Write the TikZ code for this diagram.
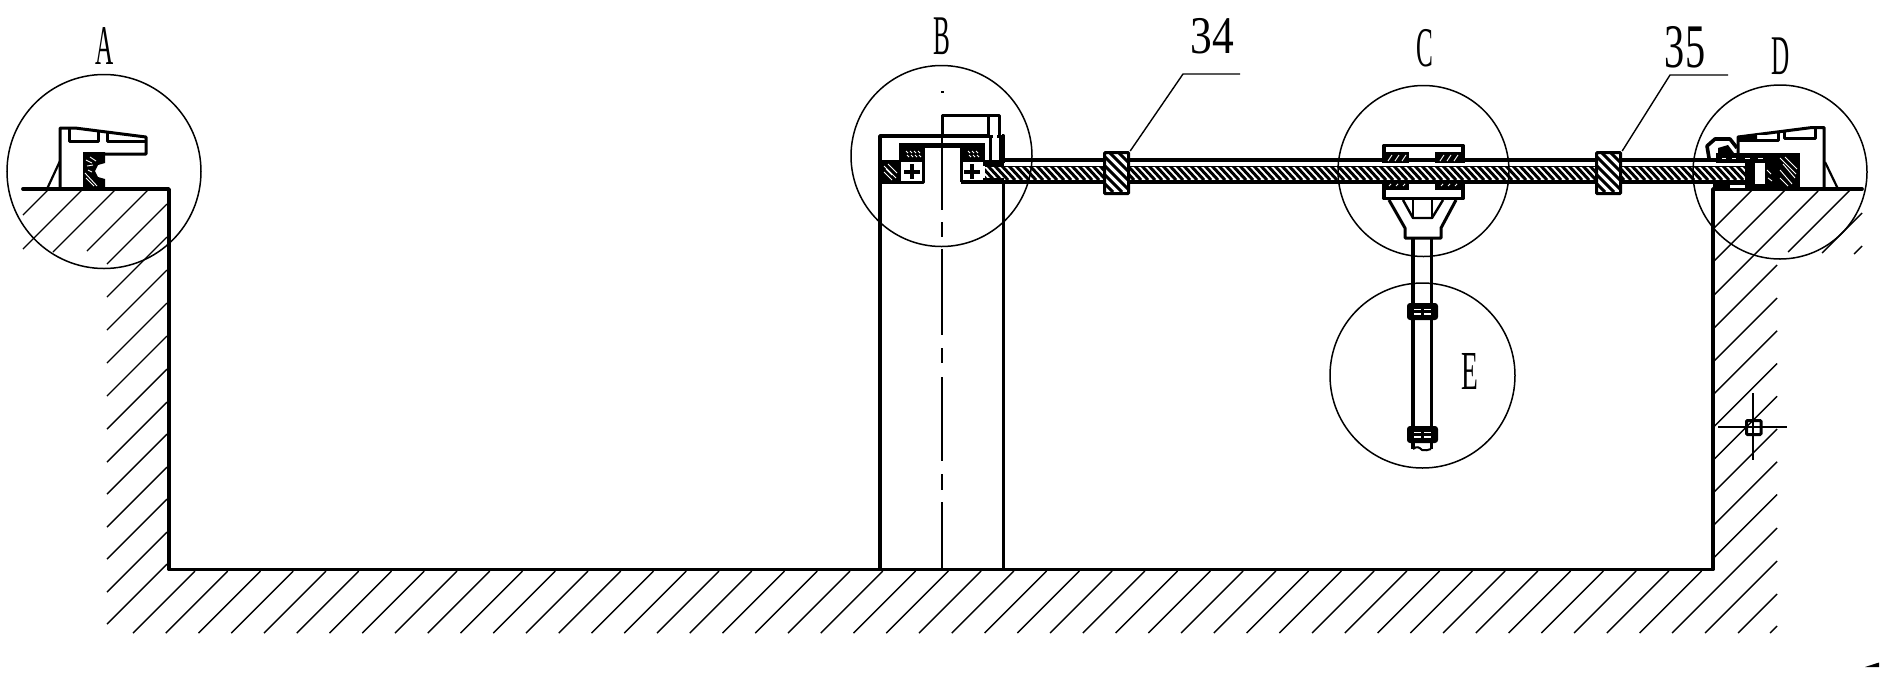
\documentclass[tikz,border=0pt]{standalone}
\usepackage{fontspec}
\setmainfont{Liberation Serif}
\tikzset{
  heavy/.style={line width=3.8pt,line cap=round,line join=round},
  medium/.style={line width=3pt,line join=round},
  hatchline/.style={line width=1.4pt},
  ring/.style={circle,draw,line width=1.5pt,inner sep=0pt},
  leader/.style={line width=1.4pt},
  speck/.style={white,line width=0.9pt},
  bandhatch/.style={line width=3pt},
  lbl/.style={inner sep=0pt,font=\fontsize{#1}{#1}\selectfont},
}
\begin{document}
\begin{tikzpicture}[x=1pt,y=-1pt]
\useasboundingbox (0,0) rectangle (1885,673);

% ---- section hatching ----
\foreach \c/\a/\b in {238/23/49,272/23/83,305/53/116,338/87/149,371/107/167,404/107/167,437/107/167,470/107/167,503/107/167,536/107/167,569/107/167,601/107/167,634/107/167,666/107/167,699/107/167,731/107/167}
  \draw[hatchline] (\a,\c-\a) -- (\b,\c-\b);
\foreach \k in {0,...,46}{
  \pgfmathsetmacro{\c}{766+32.75*\k}
  \draw[hatchline] ({\c-633},633) -- ({\c-571},571);
}
\foreach \c in {2042,2075,2107.75,2140.5,2173.25,2206,2238.75,2271.5}
  \draw[hatchline] (1714,\c-1714) -- (1777,\c-1777);
\foreach \c/\a/\b in {2305/1672/1777,2338/1705/1777,2371/1738/1777,2403/1770/1777,1942/1714/1752,1975/1714/1785,2009/1714/1818,2040/1788/1850,2075/1822/1862,2108/1854/1862}
  \draw[hatchline] (\a,\c-\a) -- (\b,\c-\b);

% ---- pit outline ----
\draw[heavy] (23,189) -- (169,189) -- (169,569.5) -- (1713,569.5) -- (1713,189) -- (1862,189);

% ---- column ----
\draw[heavy] (880,569) -- (880,136) -- (1003.5,136) -- (1003.5,569);
\draw[medium] (942,136) -- (942,115.5) -- (988,115.5);
\foreach \a/\b in {115/210,222/237,249/335,348/363,377/461,474/490,502/569}
  \draw[line width=2.4pt] (942,\a) -- (942,\b);
\fill (940.5,91) rectangle (943.5,93);

% ---- detail C housing (behind the bar) ----
\fill[white] (1383,144) rectangle (1463,198);
\draw[heavy] (1384,145.5) rectangle (1463,198.5);
\fill (1383,152) rectangle (1409,165);
\fill (1435,152) rectangle (1463,165);
\fill (1383,178) rectangle (1409,190);
\fill (1435,178) rectangle (1463,190);

% ---- drive bar ----
\fill[white] (985,163) rectangle (1755,180);
\begin{scope}
  \clip (985,166) rectangle (1755,180);
  \foreach \x in {960,967,...,1755}
    \draw[bandhatch] (\x,166) -- (\x+13,180);
\end{scope}
\draw[line width=1pt] (985,166) -- (1755,166);
\draw[line width=4pt] (1000,160) -- (1745,160);
\draw[line width=3.6pt] (961,182) -- (1755,182);

% white flecks in the C blocks
\foreach \x in {1388,1395,1402,1440,1447,1454}{
  \draw[speck] (\x,161) -- (\x+4,155);
  \draw[speck] (\x+1,186) -- (\x+3,184);
}

% ---- collars 34 and 35 ----
\foreach \x/\n in {1103/34,1595/35}{
  \fill[white] (\x,151) rectangle (\x+24,192);
  \begin{scope}
    \clip (\x,151) rectangle (\x+24,192);
    \foreach \d in {-40,-31,...,24}
      \draw[line width=3pt] (\x+\d,151) -- (\x+\d+41,192);
  \end{scope}
  \node[draw,line width=3.2pt,rounded corners=1pt,minimum width=24pt,minimum height=41pt,inner sep=0pt,anchor=north west] (collar\n) at (\x,151) {};
}
\coordinate (k34) at (1183,74);
\coordinate (e34) at (1240,74);
\coordinate (k35) at (1670,75);
\coordinate (e35) at (1728,75);
\draw[leader] (collar34.north east) -- (k34) -- (e34);
\draw[leader] (collar35.north east) -- (k35) -- (e35);

% ---- detail A ----
\draw[medium] (60,189) -- (60,128) -- (75,128) -- (146,137) -- (146,154) -- (83,154);
\draw[medium] (69,128) -- (69,141) -- (98,141) -- (98,132);
\draw[medium] (107,133) -- (107,141) -- (146,141);
\draw[line width=2.2pt] (60,161) -- (47,189);
\fill (83,152) -- (105,152) -- (105,163) -- (98,165) -- (95,171) -- (98,177) -- (105,179) -- (105,189) -- (83,189) -- cycle;
\foreach \a/\b/\d/\e in {86/160/92/163,87/166/93/165,85/173/97/186,86/178/94/186,90/157/96/161,88/170/92/172}
  \draw[speck] (\a,\b) -- (\d,\e);

% ---- detail B ----
\fill (880,160) rectangle (901,183);
\foreach \a/\b/\d/\e in {884/166/896/178,888/164/897/173,884/172/892/180,886/169/892/175}
  \draw[speck] (\a,\b) -- (\d,\e);
\fill (899,143) rectangle (925,162);
\fill (960,143) rectangle (985,162);
\fill (899,143) rectangle (985,147.5);
\foreach \x in {906,910,914,918,968,972,976}
  {\draw[speck] (\x,151) -- (\x+2,153); \draw[speck] (\x+1,155) -- (\x+3,157);}
\draw[medium] (880,182) -- (923,182) -- (923,160);
\draw[medium] (961,160) -- (961,182);
\fill (983,160) rectangle (1004,166);
\fill (983,178) rectangle (1004,184);
\draw[line width=4pt] (912,164) -- (912,179) (904,171.5) -- (920,171.5);
\draw[line width=4pt] (972,164) -- (972,179) (964,171.5) -- (980,171.5);
\fill[white] (989,116) rectangle (1002,134.5);
\fill[white] (989,137.5) rectangle (1002,158);
\draw[medium] (988,136) -- (988,115) -- (999.5,115) -- (999.5,136);
\draw[line width=3pt] (990.5,137) -- (990.5,160);
\draw[line width=3pt] (1000,137) -- (1000,160);
\fill[white] (993,118) -- (997,118) -- (997,158) -- (993,158) -- cycle;

% ---- detail C fork and rod ----
\fill[white] (1389,200) rectangle (1456,238);
\draw[line width=3pt,line join=round] (1389,200) -- (1405,228) -- (1405,238) -- (1441,238) -- (1441,228) -- (1456,200);
\draw[line width=2.4pt,line join=round] (1403,200) -- (1413,218) -- (1432,218) -- (1443,200);
\draw[line width=2.8pt] (1413,200) -- (1413,218) (1432,200) -- (1432,218);
\draw[line width=3.8pt] (1413,238) -- (1413,449);
\draw[line width=3pt] (1431,238) -- (1431,449);
\draw[line width=2pt] (1413,449) .. controls (1417,446) and (1419,447) .. (1422,450) .. controls (1425,451) and (1428,450) .. (1431,449);

% clamps on the rod
\foreach \y in {303,426}{
  \fill[rounded corners=3pt] (1407,\y) rectangle (1438,\y+17);
  \draw[white,line width=1.4pt] (1414,\y+6.5) -- (1421,\y+6.5) (1424,\y+6.5) -- (1431,\y+6.5);
  \draw[white,line width=1.4pt] (1414,\y+11) -- (1421,\y+11) (1424,\y+11) -- (1431,\y+11);
}

% ---- detail D ----
\draw[medium] (1824,189) -- (1824,127.5) -- (1812,127.5) -- (1738,137) -- (1738,155);
\draw[medium] (1738,140) -- (1778,140) -- (1778,133);
\draw[medium] (1784,132) -- (1784,138) -- (1815,138) -- (1815,128);
\fill[white] (1757,134.5) rectangle (1775,137);
\fill (1738,136) -- (1757,134) -- (1757,141) -- (1738,141) -- cycle;
\draw[line width=2.2pt] (1825,162) -- (1838,189);
\draw[line width=3.6pt,line join=round] (1709,158) -- (1707,146) -- (1715,139) -- (1730,139) -- (1737,148);
\fill (1718,148) -- (1728,145) -- (1734,153) -- (1718,158) -- cycle;
\fill (1716,153) rectangle (1800,163);
\fill (1777,153) rectangle (1800,189);
\fill (1745,163) rectangle (1755,182);
\fill (1765,157) rectangle (1777,187);
\fill[white] (1755,163) rectangle (1765,180);
\fill (1713,184) rectangle (1777,189);
\fill[white] (1730,185) rectangle (1745,187.5);
\foreach \a/\b/\d/\e in {1780/158/1796/174,1785/157/1797/169,1780/170/1792/184,1780/178/1788/186,1783/164/1795/178,1767/170/1771/174,1768/178/1772/181,1722/158/1726/158,1732/158/1736/158,1745/158/1750/158,1758/158/1763/158}
  \draw[speck] (\a,\b) -- (\d,\e);

% ---- centre mark ----
\draw[line width=1.4pt] (1718,427) -- (1787,427) (1753,393) -- (1753,460);
\draw[line width=3pt,rounded corners=1pt] (1746.5,420.5) rectangle (1761,434.5);

% stray mark, lower right
\fill (1865,667) -- (1879,662.5) -- (1879,667) -- cycle;

% ---- detail rings ----
\node[ring,minimum size=194pt] (ringA) at (104,171.5) {};
\node[ring,minimum size=181pt] (ringB) at (941.5,156) {};
\node[ring,minimum size=171pt] (ringC) at (1423.5,171) {};
\node[ring,minimum size=174pt] (ringD) at (1780,172) {};
\node[ring,minimum size=185pt] (ringE) at (1422.5,375.5) {};

% ---- labels ----
\node[lbl=56,xscale=0.45] (lA) at (105,46) {A};
\node[lbl=56,xscale=0.45] (lB) at (942,36) {B};
\node[lbl=56,xscale=0.45] (lC) at (1425,48) {C};
\node[lbl=56,xscale=0.45] (lD) at (1781,56.5) {D};
\node[lbl=55,xscale=0.5] (lE) at (1470,371) {E};
\node[lbl=53,xscale=0.82] (l34) at (1212,36) {34};
\node[lbl=62,xscale=0.65] (l35) at (1685,47) {35};
\end{tikzpicture}
\end{document}
